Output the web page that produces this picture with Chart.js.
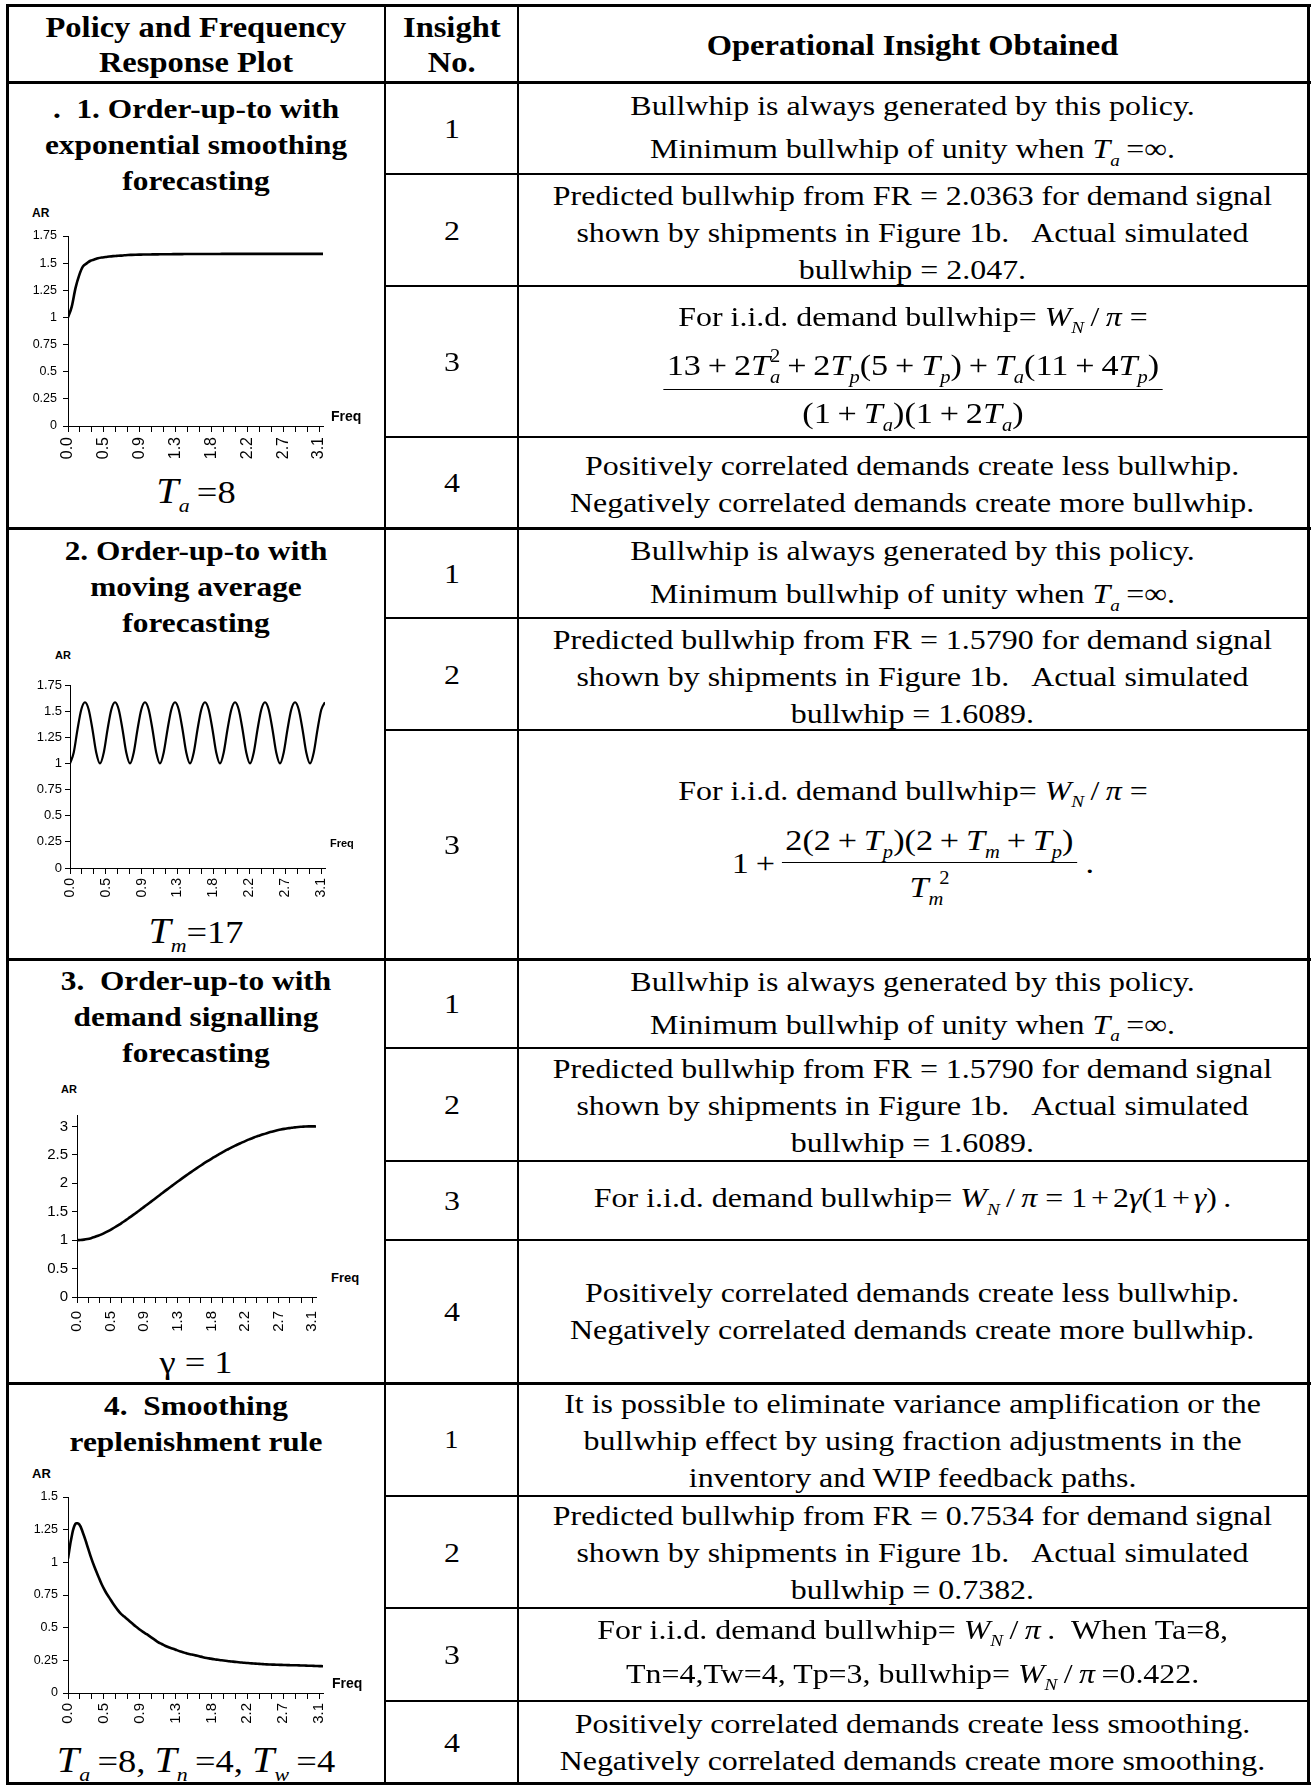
<!DOCTYPE html>
<html>
<head>
<meta charset="utf-8">
<script src="https://cdn.jsdelivr.net/npm/chart.js@4.4.1/dist/chart.umd.min.js"></script>
<style>
body { margin: 0; background: #fff; }
#page { position: relative; width: 1311px; height: 1787px; overflow: hidden; font-family: "Liberation Serif", "Times New Roman", serif; color: #000; }
.ln { position: absolute; background: #000; }
.cell { position: absolute; display: flex; flex-direction: column; align-items: center; justify-content: center; }
.txt { position: relative; transform: scaleX(1.14); transform-origin: 50% 50%; display: flex; flex-direction: column; align-items: center; white-space: nowrap; font-size: 28px; }
.txt > div { line-height: 37px; }
.bold { font-weight: bold; }
.sb { font-size: .6em; font-style: italic; position: relative; top: .45em; line-height: 0; }
.sp { font-size: .6em; position: relative; top: -.72em; line-height: 0; }
.op { margin: 0 .12em; }
.eq .op { margin: 0 .2em; }
.frac { display: inline-flex; flex-direction: column; align-items: center; }
.num { border-bottom: 1.5px solid #000; padding: 0 3px; }
.eqrow { display: flex; align-items: center; }
.lbl { position: absolute; font-family: "Liberation Sans", Arial, sans-serif; font-weight: bold; white-space: nowrap; }
canvas { position: absolute; }
</style>
</head>
<body>
<div id="page">
  <canvas id="cES" width="315" height="240" style="left:20px;top:226px"></canvas>
  <canvas id="cMA" width="317" height="233" style="left:20px;top:675px"></canvas>
  <canvas id="cDS" width="308" height="232" style="left:20px;top:1105px"></canvas>
  <canvas id="cSR" width="315" height="246" style="left:20px;top:1487px"></canvas>
</div>
<script>
// frequency (rad) shared by the four plots
var freq = [0, 0.047, 0.094, 0.141, 0.188, 0.235, 0.282, 0.329, 0.376, 0.424, 0.471, 0.518, 0.565, 0.612, 0.659, 0.706, 0.753, 0.800, 0.847, 0.894,
  0.941, 0.988, 1.035, 1.082, 1.129, 1.176, 1.224, 1.271, 1.318, 1.365, 1.412, 1.459, 1.506, 1.553, 1.600, 1.647, 1.694, 1.741, 1.788, 1.835,
  1.882, 1.929, 1.976, 2.024, 2.071, 2.118, 2.165, 2.212, 2.259, 2.306, 2.353, 2.400, 2.447, 2.494, 2.541, 2.588, 2.635, 2.682, 2.729, 2.776,
  2.824, 2.871, 2.918, 2.965, 3.012, 3.059, 3.106, 3.153, 3.200]

// 1. exponential smoothing, Ta=8
var arES = [1.000, 1.100, 1.270, 1.390, 1.470, 1.498, 1.522, 1.533, 1.545, 1.552, 1.556, 1.561, 1.565, 1.567, 1.569, 1.572, 1.575, 1.576, 1.577, 1.578,
  1.579, 1.580, 1.580, 1.581, 1.581, 1.582, 1.582, 1.582, 1.583, 1.583, 1.583, 1.584, 1.584, 1.584, 1.584, 1.584, 1.584, 1.584, 1.584, 1.584,
  1.584, 1.585, 1.585, 1.585, 1.585, 1.585, 1.585, 1.585, 1.585, 1.585, 1.585, 1.585, 1.585, 1.585, 1.585, 1.585, 1.585, 1.585, 1.585, 1.585,
  1.585, 1.585, 1.585, 1.585, 1.585, 1.585, 1.585, 1.585, 1.585]

// 2. moving average, Tm=17
var arMA = [1.000, 1.105, 1.325, 1.514, 1.585, 1.514, 1.325, 1.105,
  1.000, 1.105, 1.325, 1.514, 1.585, 1.514, 1.325, 1.105,
  1.000, 1.105, 1.325, 1.514, 1.585, 1.514, 1.325, 1.105,
  1.000, 1.105, 1.325, 1.514, 1.585, 1.514, 1.325, 1.105,
  1.000, 1.105, 1.325, 1.514, 1.585, 1.514, 1.325, 1.105,
  1.000, 1.105, 1.325, 1.514, 1.585, 1.514, 1.325, 1.105,
  1.000, 1.105, 1.325, 1.514, 1.585, 1.514, 1.325, 1.105,
  1.000, 1.105, 1.325, 1.514, 1.585, 1.514, 1.325, 1.105,
  1.000, 1.105, 1.325, 1.514, 1.585]

// 3. demand signalling, gamma=1
var arDS = [1.000, 1.002, 1.009, 1.020, 1.035, 1.054, 1.076, 1.102, 1.131, 1.163, 1.198, 1.235, 1.273, 1.314, 1.355, 1.399, 1.443, 1.488, 1.533, 1.580,
  1.626, 1.673, 1.720, 1.767, 1.814, 1.861, 1.908, 1.954, 2.000, 2.045, 2.090, 2.134, 2.177, 2.220, 2.262, 2.303, 2.344, 2.383, 2.421, 2.459,
  2.495, 2.531, 2.565, 2.598, 2.630, 2.661, 2.690, 2.719, 2.746, 2.772, 2.796, 2.820, 2.841, 2.862, 2.881, 2.899, 2.915, 2.930, 2.944, 2.956,
  2.966, 2.976, 2.983, 2.990, 2.994, 2.998, 3.000, 3.000, 2.999]

// 4. smoothing replenishment rule, Ta=8, Tn=4, Tw=4
var arSR = [1.030, 1.200, 1.295, 1.290, 1.225, 1.140, 1.050, 0.970, 0.900, 0.830, 0.775, 0.730, 0.685, 0.645, 0.610, 0.585, 0.560, 0.535, 0.510, 0.488,
  0.468, 0.450, 0.430, 0.410, 0.390, 0.375, 0.360, 0.348, 0.339, 0.328, 0.318, 0.309, 0.300, 0.295, 0.288, 0.281, 0.274, 0.268, 0.263, 0.258,
  0.254, 0.250, 0.247, 0.243, 0.240, 0.237, 0.234, 0.231, 0.229, 0.227, 0.225, 0.223, 0.221, 0.219, 0.218, 0.217, 0.216, 0.215, 0.214, 0.213,
  0.212, 0.212, 0.211, 0.210, 0.209, 0.208, 0.207, 0.206, 0.205]

// tick labels
var xTickLabels = ['0.0', '0.5', '0.9', '1.3', '1.8', '2.2', '2.7', '3.1']
var yTicks175 = [0, 0.25, 0.5, 0.75, 1, 1.25, 1.5, 1.75]
var yTicks3 = [0, 0.5, 1, 1.5, 2, 2.5, 3]
var yTicks15 = [0, 0.25, 0.5, 0.75, 1, 1.25, 1.5]

var page = document.getElementById('page')

// ---------- table lines ----------
function line(x, y, w, h) {
    var d = document.createElement('div')
    d.className = 'ln'
    d.style.left = x + 'px'; d.style.top = y + 'px'
    d.style.width = w + 'px'; d.style.height = h + 'px'
    page.appendChild(d)
}
// thick: outer border and section separators
;[5.5, 82, 528.5, 959.5, 1383, 1783.5].forEach(function (y) { line(5.5, y - 1.5, 1305, 3) })
line(5.5, 4, 3, 1781)
line(1306.5, 4, 3, 1781)
// column separators
line(384, 5, 2, 1779)
line(517, 5, 2, 1779)
// thin row separators (insight rows)
;[174, 286, 437, 618, 730, 1048, 1161, 1240, 1496, 1608, 1701].forEach(function (y) { line(385, y - 0.75, 922, 1.5) })

// ---------- text ----------
var ASC = 0.891, DESC = 0.216
function topFor(baseline, fs, lh) { return baseline - ((lh - (ASC + DESC) * fs) / 2 + ASC * fs) }

function cell(x0, x1, y0, y1, html, extra) {
    var c = document.createElement('div')
    c.className = 'cell'
    c.style.left = x0 + 'px'; c.style.width = (x1 - x0) + 'px'
    c.style.top = y0 + 'px'; c.style.height = (y1 - y0) + 'px'
    var t = document.createElement('div')
    t.className = 'txt' + (extra && extra.cls ? ' ' + extra.cls : '')
    t.innerHTML = html
    if (extra && extra.dy) t.style.top = extra.dy + 'px'
    if (extra && extra.fs) t.style.fontSize = extra.fs + 'px'
    c.appendChild(t)
    page.appendChild(c)
}

function block(x0, x1, baseline, fs, lh, lines, cls) {
    var t = document.createElement('div')
    t.className = 'txt ' + (cls || '')
    t.style.position = 'absolute'
    t.style.left = x0 + 'px'; t.style.width = (x1 - x0) + 'px'
    t.style.top = topFor(baseline, fs, lh) + 'px'
    t.style.fontSize = fs + 'px'
    t.innerHTML = lines.map(function (l) { return '<div style="line-height:' + lh + 'px">' + l + '</div>' }).join('')
    page.appendChild(t)
}

function lbl(text, x, baseline, fs) {
    var d = document.createElement('div')
    d.className = 'lbl'
    d.style.fontSize = fs + 'px'
    d.style.lineHeight = fs + 'px'
    d.style.left = x + 'px'
    d.style.top = (baseline - ((1 - 1.117) / 2 + 0.905) * fs) + 'px'
    d.textContent = text
    page.appendChild(d)
}

// header
cell(8, 384, 7, 80.5, '<div style="line-height:35px">Policy and Frequency</div><div style="line-height:35px">Response Plot</div>', { cls: 'bold', fs: 28.5, dy: 1 })
cell(386, 517, 7, 80.5, '<div style="line-height:35px">Insight</div><div style="line-height:35px">No.</div>', { cls: 'bold', fs: 28.5, dy: 1 })
cell(519, 1306, 7, 80.5, '<div>Operational Insight Obtained</div>', { cls: 'bold', fs: 28.5, dy: 2 })

// left column titles
block(8, 384, 118, 27.5, 36, ['.&nbsp; 1. Order-up-to with', 'exponential smoothing', 'forecasting'], 'bold')
block(8, 384, 560, 27.5, 36, ['2. Order-up-to with', 'moving average', 'forecasting'], 'bold')
block(8, 384, 990, 27.5, 36, ['3.&nbsp; Order-up-to with', 'demand signalling', 'forecasting'], 'bold')
block(8, 384, 1415, 27.5, 36, ['4.&nbsp; Smoothing', 'replenishment rule'], 'bold')

// plot captions
var T = '<i style="font-size:1.1em">T</i>'
block(8, 384, 503, 32, 40, [T + '<span class="sb">a</span>&thinsp;=8'])
block(8, 384, 943, 32, 40, [T + '<span class="sb">m</span>=17'])
block(8, 384, 1373, 32, 40, ['&gamma; = 1'])
block(8, 384, 1772, 32, 40, [T + '<span class="sb">a</span>&thinsp;=8, ' + T + '<span class="sb">n</span>&thinsp;=4, ' + T + '<span class="sb">w</span>&thinsp;=4'])

// axis names
lbl('AR', 32, 217, 12); lbl('Freq', 331, 421, 14)
lbl('AR', 55, 659, 11); lbl('Freq', 330, 847, 11)
lbl('AR', 61, 1093, 11); lbl('Freq', 331, 1282, 13)
lbl('AR', 32, 1478, 13); lbl('Freq', 332, 1688, 14)

// right column
var Ti = '<i>T</i>'
function s(x) { return '<span class="sb">' + x + '</span>' }
var P = '<span class="op">+</span>'
var WN = '<i>W</i>' + s('N') + '&thinsp;/&thinsp;<i>&pi;</i>'

var minLine = ['<div style="line-height:37px">Bullwhip is always generated by this policy.</div>',
  '<div style="line-height:49px">Minimum bullwhip of unity when ' + Ti + s('a') + '&thinsp;=&infin;.</div>'].join('')
function frLines(fr, act) {
    return '<div>Predicted bullwhip from FR = ' + fr + ' for demand signal</div>' +
        '<div>shown by shipments in Figure 1b.&nbsp;&nbsp; Actual simulated</div>' +
        '<div>bullwhip = ' + act + '.</div>'
}
function corr(word) {
    return '<div>Positively correlated demands create less ' + word + '.</div>' +
        '<div>Negatively correlated demands create more ' + word + '.</div>'
}
var eq1 = '<div style="line-height:38px">For i.i.d. demand bullwhip= ' + WN + ' =</div>' +
    '<div class="frac eq" style="margin-top:10px;font-size:30px">' +
    '<div class="num" style="line-height:38px;padding-bottom:5px">13' + P + '2' + Ti + s('a') + '<span class="sp" style="margin-left:-.5em">2</span>' + P + '2' + Ti + s('p') + '(5' + P + Ti + s('p') + ')' + P + Ti + s('a') + '(11' + P + '4' + Ti + s('p') + ')</div>' +
    '<div style="line-height:38px;padding-top:4px">(1' + P + Ti + s('a') + ')(1' + P + '2' + Ti + s('a') + ')</div></div>'
var eq2 = '<div style="line-height:38px">For i.i.d. demand bullwhip= ' + WN + ' =</div>' +
    '<div class="eqrow eq" style="margin-top:13px;font-size:30px"><span style="line-height:38px">1' + P + '</span>' +
    '<div class="frac"><div class="num" style="line-height:34px;padding-bottom:5px">2(2' + P + Ti + s('p') + ')(2' + P + Ti + s('m') + P + Ti + s('p') + ')</div>' +
    '<div style="line-height:34px;padding-top:7px">' + Ti + s('m') + '<span class="sp" style="margin-left:-.2em">2</span></div></div>' +
    '<span style="line-height:38px">&nbsp;.</span></div>'

var rows = [
    [82, 174, '1', minLine, 2],
    [174, 286, '2', frLines('2.0363', '2.047'), 2],
    [286, 437, '3', eq1, 3],
    [437, 528.5, '4', corr('bullwhip'), 1],
    [528.5, 618, '1', minLine, 2],
    [618, 730, '2', frLines('1.5790', '1.6089'), 2],
    [730, 959.5, '3', eq2, -7],
    [959.5, 1048, '1', minLine, 2],
    [1048, 1161, '2', frLines('1.5790', '1.6089'), 1],
    [1161, 1240, '3', '<div>For i.i.d. demand bullwhip= ' + WN + ' = 1' + P + '2<i>&gamma;</i>(1' + P + '<i>&gamma;</i>)&thinsp;.</div>', -3],
    [1240, 1383, '4', corr('bullwhip'), -1],
    [1383, 1496, '1', '<div>It is possible to eliminate variance amplification or the</div><div>bullwhip effect by using fraction adjustments in the</div><div>inventory and WIP feedback paths.</div>', 1],
    [1496, 1608, '2', frLines('0.7534', '0.7382'), 0],
    [1608, 1701, '3', '<div style="line-height:37px">For i.i.d. demand bullwhip= ' + WN + '&thinsp;.&nbsp; When Ta=8,</div><div style="line-height:51px">Tn=4,Tw=4, Tp=3, bullwhip= ' + WN + '&thinsp;=0.422.</div>', 0],
    [1701, 1783.5, '4', corr('smoothing'), 0]
]
rows.forEach(function (r, i) {
    cell(386, 517, r[0], r[1], '<div>' + r[2] + '</div>', { fs: i == 11 ? 25 : 28 })
    cell(519, 1306, r[0], r[1], r[3], { dy: r[4] })
})

// ---------- plots ----------
Chart.defaults.font.family = '"Liberation Sans", Arial, sans-serif'
Chart.defaults.color = '#000'

function plotar(id, valores, o) {
    new Chart(document.getElementById(id), {
        type: 'line',
        data: {
            datasets: [{
                data: freq.map(function (f, i) { return { x: f, y: valores[i] } }),
                borderColor: '#000',
                borderWidth: o.lw,
                pointRadius: 0,
                fill: false,
                tension: 0.4,
                cubicInterpolationMode: o.monotone ? 'monotone' : 'default'
            }]
        },
        options: {
            responsive: false,
            animation: false,
            events: [],
            layout: { padding: { top: o.padT, right: o.padR, left: 0, bottom: 0 } },
            plugins: { legend: { display: false }, tooltip: { enabled: false } },
            scales: {
                x: {
                    type: 'linear', min: 0, max: 3.2,
                    afterBuildTicks: function (ax) {
                        var t = []
                        for (var k = 0; k <= 21; k++) t.push({ value: k * 0.15 })
                        ax.ticks = t
                    },
                    // fixed box so the plot area sits where the original has it
                    afterFit: function (ax) { ax.height = o.xh; ax.paddingLeft = 0; ax.paddingRight = 0 },
                    grid: { drawOnChartArea: false, drawTicks: true, tickLength: 6, color: '#000' },
                    border: { display: true, color: '#000', width: 1 },
                    ticks: {
                        autoSkip: false, minRotation: 90, maxRotation: 90, padding: o.xPad,
                        font: { size: o.xFont },
                        callback: function (v, i) { return i % 3 === 0 ? xTickLabels[i / 3] : '' }
                    }
                },
                y: {
                    min: 0, max: o.yMax,
                    afterBuildTicks: function (ax) { ax.ticks = o.yTicks.map(function (v) { return { value: v } }) },
                    afterFit: function (ax) { ax.width = o.yw; ax.paddingTop = 0; ax.paddingBottom = 0 },
                    grid: { drawOnChartArea: false, drawTicks: true, tickLength: 5, color: '#000' },
                    border: { display: true, color: '#000', width: 1 },
                    ticks: { padding: o.yPad, font: { size: o.yFont }, callback: function (v) { return String(v) } }
                }
            }
        }
    })
}

plotar('cES', arES, { monotone: true, lw: 2.6, yMax: 1.75, yTicks: yTicks175, yw: 48, xh: 40, padT: 10, padR: 12, xFont: 16, xPad: 5, yFont: 12.5, yPad: 6 })
plotar('cMA', arMA, { monotone: true, lw: 2.2, yMax: 1.75, yTicks: yTicks175, yw: 50, xh: 40, padT: 10, padR: 12, xFont: 14, xPad: 4, yFont: 13, yPad: 3 })
plotar('cDS', arDS, { monotone: true, lw: 2.6, yMax: 3.2, yTicks: yTicks3, yw: 57, xh: 40, padT: 10, padR: 12, xFont: 15, xPad: 8, yFont: 15, yPad: 4 })
plotar('cSR', arSR, { monotone: false, lw: 2.6, yMax: 1.5, yTicks: yTicks15, yw: 48, xh: 40, padT: 10, padR: 12, xFont: 15, xPad: 4, yFont: 12.5, yPad: 5 })
</script>
</body>
</html>
